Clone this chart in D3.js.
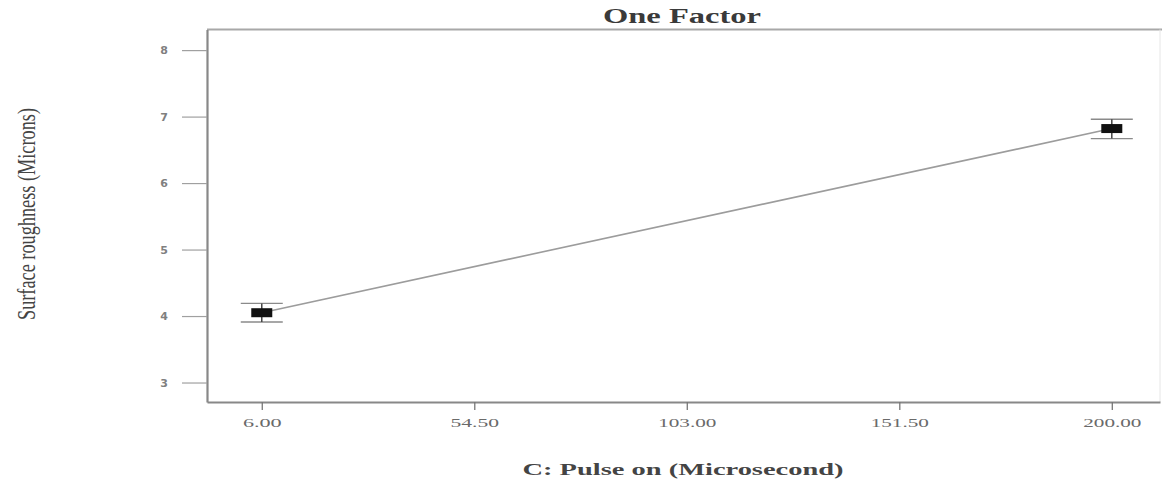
<!DOCTYPE html>
<html>
<head>
<meta charset="utf-8">
<script src="https://cdn.jsdelivr.net/npm/d3@7"></script>
<style>
  html, body { margin: 0; padding: 0; background: #fff; }
  svg { display: block; }
</style>
</head>
<body>
<svg id="chart" width="1162" height="483"></svg>
<script>
// ---- data ----
const xLevels = [6, 200];
const means = [4.05, 6.82];
const lowerCI = [3.91, 6.67];
const upperCI = [4.19, 6.96];
const xTicks = [6, 54.5, 103, 151.5, 200];
const yTicks = [3, 4, 5, 6, 7, 8];
const titleText = "One Factor";
const xLabelText = "C: Pulse on (Microsecond)";
const yLabelText = "Surface roughness (Microns)";

// ---- layout ----
const svg = d3.select("#chart");
const plotLeft = 207, plotRight = 1160, plotTop = 29.5, plotBottom = 402;

const x = d3.scaleLinear().domain([-6.5, 211]).range([plotLeft, plotRight]);
const y = d3.scaleLinear().domain([2.707, 8.31]).range([plotBottom, plotTop]);

// frame: top and right borders
svg.append("line").attr("x1", plotLeft).attr("x2", 1162).attr("y1", plotTop).attr("y2", plotTop)
  .attr("stroke", "#a8a8a8").attr("stroke-width", 2);
svg.append("line").attr("x1", plotRight).attr("x2", plotRight).attr("y1", plotTop).attr("y2", plotBottom)
  .attr("stroke", "#e6e6e6").attr("stroke-width", 1);

// y axis
const yAxis = d3.axisLeft(y).tickValues(yTicks).tickSize(25).tickSizeOuter(0).tickPadding(14).tickFormat(d3.format("d"));
const gy = svg.append("g").attr("transform", `translate(${plotLeft},0)`).call(yAxis);
gy.select(".domain").attr("stroke", "#888").attr("stroke-width", 2.2);
gy.selectAll(".tick line").attr("stroke", "#a0a0a0").attr("stroke-width", 1.2);
gy.selectAll(".tick text").attr("font-family", "DejaVu Sans, sans-serif").attr("font-size", 11)
  .attr("font-weight", "bold").attr("fill", "#808080");

// x axis
const xAxis = d3.axisBottom(x).tickValues(xTicks).tickSize(8).tickSizeOuter(0).tickPadding(8).tickFormat(d3.format(".2f"));
const gx = svg.append("g").attr("transform", `translate(0,${plotBottom})`).call(xAxis);
gx.select(".domain").attr("stroke", "#888").attr("stroke-width", 2);
gx.selectAll(".tick line").attr("stroke", "#777").attr("stroke-width", 1.3);
gx.selectAll(".tick text").attr("font-family", "Liberation Serif, serif").attr("font-size", 12.5)
  .attr("fill", "#6a6a6a")
  .attr("textLength", d => d3.format(".2f")(d).length * 9.7)
  .attr("lengthAdjust", "spacingAndGlyphs");

// fitted line
const lineData = xLevels.map((v, i) => [v, means[i]]);
svg.append("path")
  .datum(lineData)
  .attr("d", d3.line().x(d => x(d[0])).y(d => y(d[1])))
  .attr("fill", "none").attr("stroke", "#9c9c9c").attr("stroke-width", 1.6);

// error bars
const capHalf = 21, boxW = 21, boxH = 9;
const eb = svg.append("g").selectAll("g").data(xLevels.map((v, i) => ({ v, m: means[i], lo: lowerCI[i], hi: upperCI[i] })))
  .join("g");
eb.append("line").attr("x1", d => x(d.v) - capHalf).attr("x2", d => x(d.v) + capHalf)
  .attr("y1", d => y(d.hi)).attr("y2", d => y(d.hi)).attr("stroke", "#8a8a8a").attr("stroke-width", 1.3);
eb.append("line").attr("x1", d => x(d.v) - capHalf).attr("x2", d => x(d.v) + capHalf)
  .attr("y1", d => y(d.lo)).attr("y2", d => y(d.lo)).attr("stroke", "#8a8a8a").attr("stroke-width", 1.3);
eb.append("line").attr("x1", d => x(d.v)).attr("x2", d => x(d.v))
  .attr("y1", d => y(d.hi)).attr("y2", d => y(d.lo)).attr("stroke", "#444").attr("stroke-width", 1.5);
eb.append("rect").attr("x", d => x(d.v) - boxW / 2).attr("y", d => y(d.m) - boxH / 2)
  .attr("width", boxW).attr("height", boxH).attr("fill", "#111");

// title
svg.append("text").attr("x", 682).attr("y", 23).attr("text-anchor", "middle")
  .attr("font-family", "Liberation Serif, serif").attr("font-size", 20).attr("font-weight", "bold")
  .attr("fill", "#3a3a3a").attr("textLength", 158).attr("lengthAdjust", "spacingAndGlyphs")
  .text(titleText);

// x label
svg.append("text").attr("x", 683).attr("y", 475).attr("text-anchor", "middle")
  .attr("font-family", "Liberation Serif, serif").attr("font-size", 17).attr("font-weight", "bold")
  .attr("fill", "#444").attr("textLength", 321).attr("lengthAdjust", "spacingAndGlyphs")
  .text(xLabelText);

// y label (horizontally stretched, as in the reference)
svg.append("text").attr("transform", "translate(35,214) scale(1.45,1) rotate(-90)").attr("text-anchor", "middle")
  .attr("font-family", "Liberation Serif, serif").attr("font-size", 17)
  .attr("fill", "#444").attr("textLength", 212).attr("lengthAdjust", "spacingAndGlyphs")
  .text(yLabelText);
</script>
</body>
</html>
